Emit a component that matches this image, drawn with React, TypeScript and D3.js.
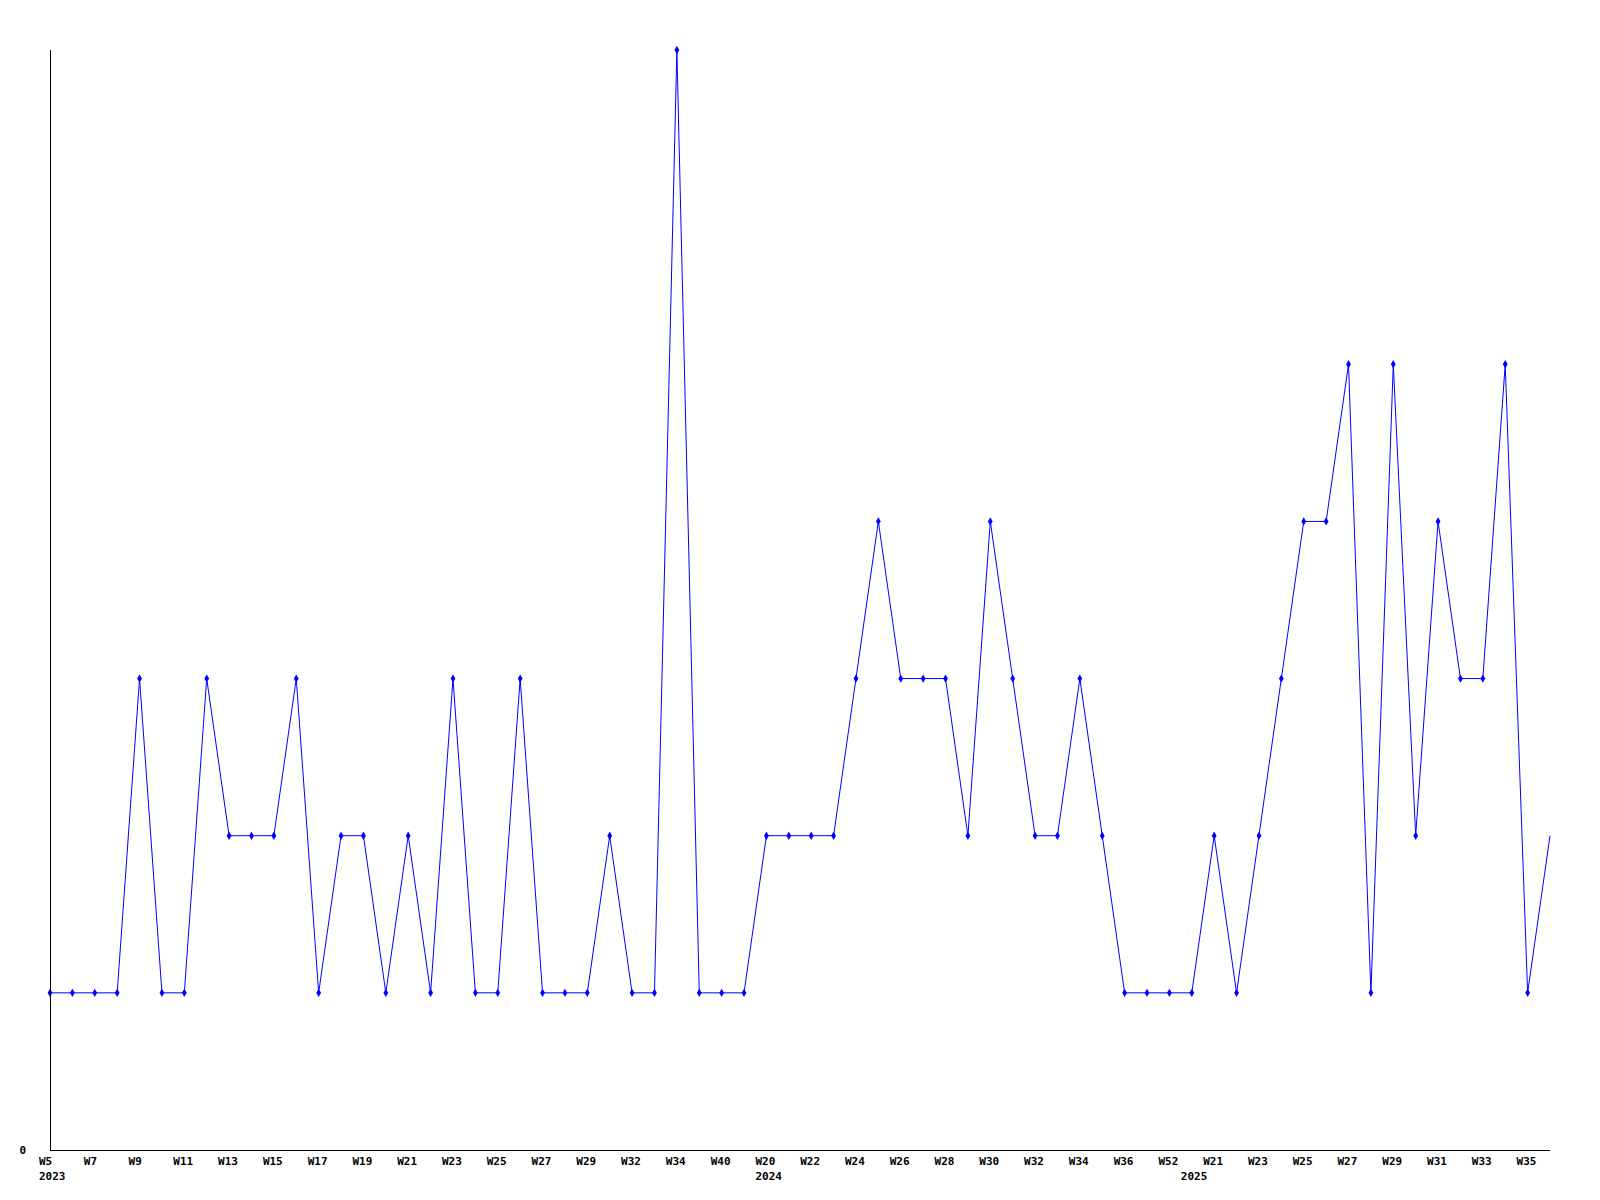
import React from "react";
import * as d3 from "d3";

const width = 1600;
const height = 1200;
const margin = { top: 50, right: 50, bottom: 50, left: 50 };

// one entry per point, week label and its year
const weeks = [
  "W5", "W6", "W7", "W8", "W9", "W10", "W11", "W12", "W13", "W14", "W15", "W16",
  "W17", "W18", "W19", "W20", "W21", "W22", "W23", "W24", "W25", "W26", "W27", "W28",
  "W29", "W31", "W32", "W33", "W34", "W37", "W40", "W42",
  "W20", "W21", "W22", "W23", "W24", "W25", "W26", "W27", "W28", "W29", "W30", "W31",
  "W32", "W33", "W34", "W35", "W36", "W40", "W52", "W20",
  "W21", "W22", "W23", "W24", "W25", "W26", "W27", "W28", "W29", "W30", "W31", "W32",
  "W33", "W34", "W35", "W36"
];
const years = [
  2023, 2023, 2023, 2023, 2023, 2023, 2023, 2023, 2023, 2023, 2023, 2023,
  2023, 2023, 2023, 2023, 2023, 2023, 2023, 2023, 2023, 2023, 2023, 2023,
  2023, 2023, 2023, 2023, 2023, 2023, 2023, 2023,
  2024, 2024, 2024, 2024, 2024, 2024, 2024, 2024, 2024, 2024, 2024, 2024,
  2024, 2024, 2024, 2024, 2024, 2024, 2024, 2025,
  2025, 2025, 2025, 2025, 2025, 2025, 2025, 2025, 2025, 2025, 2025, 2025,
  2025, 2025, 2025, 2025
];
const counts = [
  1, 1, 1, 1, 3, 1, 1, 3, 2, 2, 2, 3,
  1, 2, 2, 1, 2, 1, 3, 1, 1, 3, 1, 1,
  1, 2, 1, 1, 7, 1, 1, 1,
  2, 2, 2, 2, 3, 4, 3, 3, 3, 2, 4, 3,
  2, 2, 3, 2, 1, 1, 1, 1,
  2, 1, 2, 3, 4, 4, 5, 1, 5, 2, 4, 3,
  3, 5, 1, 2
];
const yMax = 7;

const font = "'DejaVu Sans Mono', monospace";

export default function App() {
  const idx = counts.map((_, i) => i);
  const x = d3.scalePoint<number>()
    .domain(idx)
    .range([margin.left, width - margin.right])
    .padding(0);
  const y = d3.scaleLinear()
    .domain([0, yMax])
    .range([height - margin.bottom, margin.top]);

  const line = d3.line<number>()
    .x(i => x(i) as number)
    .y(i => y(counts[i]));

  const marker = d3.symbol().type(d3.symbolDiamond).size(20)();

  const y0 = y(0);
  const ticks = idx.filter(i => i % 2 === 0);
  // year shown at the first point of each year
  const yearStarts = idx.filter(i => i === 0 || years[i] !== years[i - 1]);

  return (
    <svg width={width} height={height}
      style={{ position: "absolute", left: 0, top: 0, background: "#fff" }}>
      <defs>
        <clipPath id="plot">
          <rect x={0} y={0} width={width - margin.right - 2} height={height} />
        </clipPath>
      </defs>

      <path d={line(idx) || ""} fill="none" stroke="#0000ff" strokeWidth={1} />
      <g clipPath="url(#plot)">
        {idx.map(i => (
          <path key={i} d={marker || ""} fill="#0000ff"
            transform={`translate(${x(i)},${y(counts[i])})`} />
        ))}
      </g>

      <line x1={margin.left + 0.5} x2={margin.left + 0.5} y1={margin.top} y2={y0}
        stroke="#000" shapeRendering="crispEdges" />
      <line x1={margin.left} x2={width - margin.right} y1={y0 + 0.5} y2={y0 + 0.5}
        stroke="#000" shapeRendering="crispEdges" />

      <text x={26} y={y0 + 4} textAnchor="end" fontFamily={font} fontWeight="bold"
        fontSize={11}>0</text>

      {ticks.map(i => (
        <text key={"w" + i} x={(x(i) as number) - 11} y={y0 + 15} fontFamily={font}
          fontWeight="bold" fontSize={11}>{weeks[i]}</text>
      ))}
      {yearStarts.map(i => (
        <text key={"y" + i} x={(x(i) as number) - 11} y={y0 + 30} fontFamily={font}
          fontWeight="bold" fontSize={11}>{years[i]}</text>
      ))}
    </svg>
  );
}
